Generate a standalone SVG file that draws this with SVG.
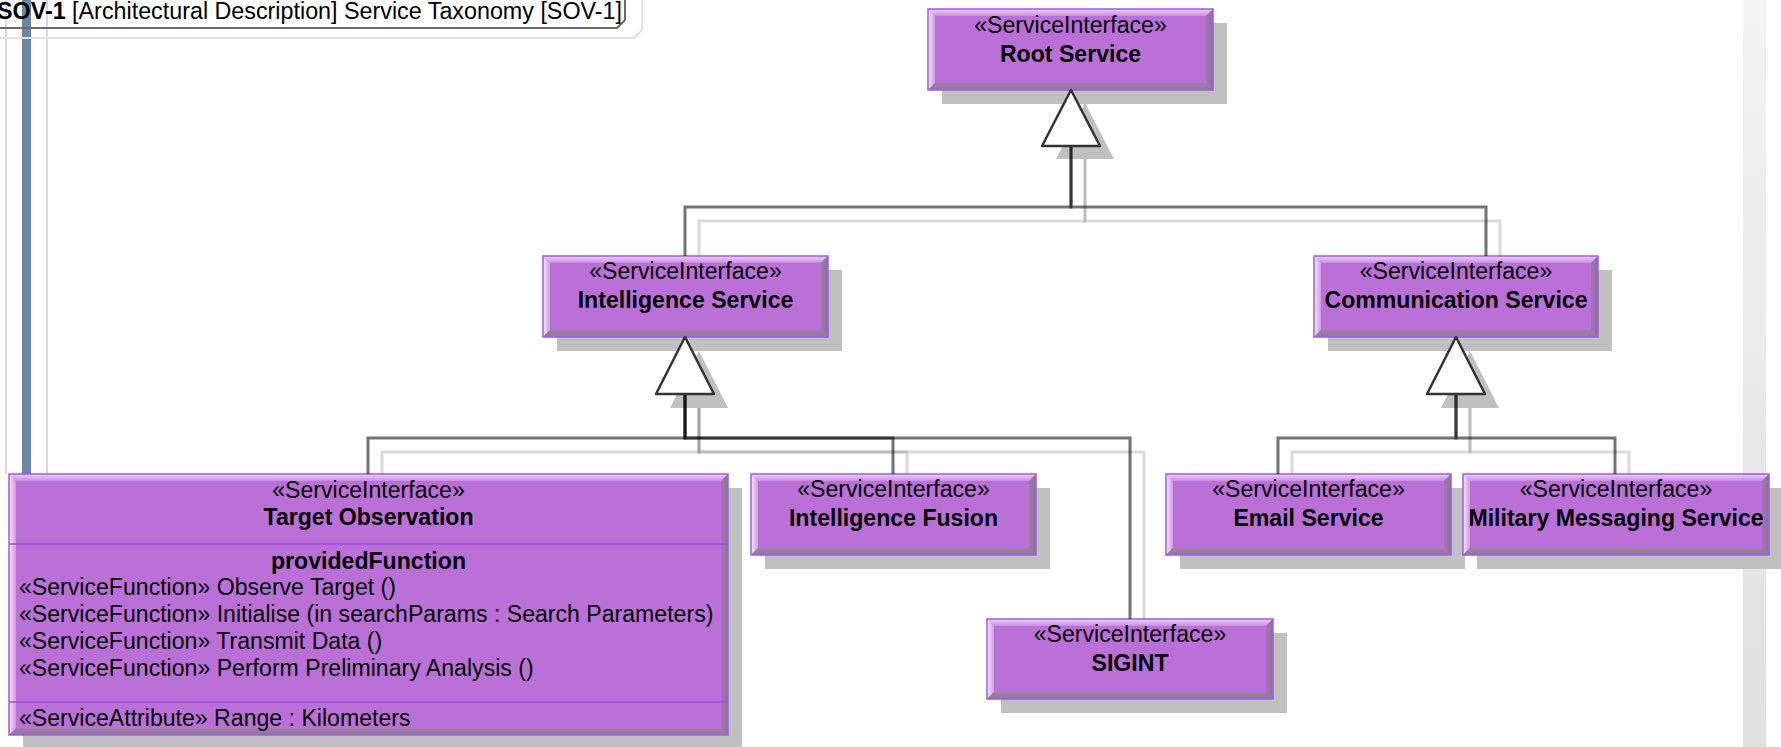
<svg xmlns="http://www.w3.org/2000/svg" width="1781" height="747" viewBox="0 0 1781 747">
<style>
.t{font-family:"Liberation Sans",Arial,sans-serif;font-size:23.1px;fill:#000}
.c{text-anchor:middle}
.b{font-weight:bold}
.body{fill:#bb70d8}
.bd{fill:none;stroke:#a456ee;stroke-width:1.5}
.sh{fill:#c0c0c0}
.bt{fill:url(#gTop)}
.bl{fill:url(#gLeft)}
.br{fill:url(#gRight)}
.bb{fill:url(#gBot)}
.ln{fill:none;stroke:#000;stroke-opacity:.55;stroke-width:3}
.lns{fill:none;stroke:#000;stroke-opacity:.14;stroke-width:3}
.tri{fill:#fff;stroke:#333;stroke-width:2.5;stroke-linejoin:round}
.trs{fill:#c0c0c0}
.cmp{stroke:#9c4ce8;stroke-width:1.5}
</style>
<defs>
<linearGradient id="gTop" x1="0" y1="0" x2="0" y2="1"><stop offset="0" stop-color="#ecd2f5"/><stop offset="1" stop-color="#c98ee3"/></linearGradient>
<linearGradient id="gLeft" x1="0" y1="0" x2="1" y2="0"><stop offset="0" stop-color="#f6e8fb"/><stop offset="1" stop-color="#cf98e6"/></linearGradient>
<linearGradient id="gRight" x1="0" y1="0" x2="1" y2="0"><stop offset="0" stop-color="#a276b4"/><stop offset="1" stop-color="#857590"/></linearGradient>
<linearGradient id="gBot" x1="0" y1="0" x2="0" y2="1"><stop offset="0" stop-color="#a47ab4"/><stop offset="1" stop-color="#8a7c92"/></linearGradient>
<linearGradient id="gBand" x1="0" y1="0" x2="0" y2="1"><stop offset="0" stop-color="#f3f3f3"/><stop offset="1" stop-color="#e0e0e0"/></linearGradient>
</defs>
<rect width="1781" height="747" fill="#fff"/>
<rect x="1743" y="0" width="23" height="747" fill="url(#gBand)"/>

<g id="frame">
<rect x="22" y="0" width="9" height="474" fill="#6886a6"/>
<line x1="6" y1="0" x2="6" y2="474" stroke="#d4d4ff" stroke-width="2"/>
<line x1="47" y1="0" x2="47" y2="474" stroke="#d4d4ff" stroke-width="2"/>
<path d="M-10,38 H634 L642,30 V-10" fill="none" stroke="#e2e2e2" stroke-width="2"/>
<path d="M-10,28 H617 L625,20 V-10" fill="none" stroke="#6a6a6a" stroke-width="2"/>
<text class="t" x="-3" y="19" style="font-size:23.3px"><tspan class="b">SOV-1</tspan> [Architectural Description] Service Taxonomy [SOV-1]</text>
</g>

<g id="root-service" transform="translate(928,9)">
<rect class="sh" x="14" y="14" width="285" height="81"/>
<rect class="body" width="285" height="81"/>
<polygon class="bt" points="0,0 285,0 278,7 7,7"/>
<polygon class="bl" points="0,0 7,7 7,74 0,81"/>
<polygon class="br" points="285,0 285,81 278,74 278,7"/>
<polygon class="bb" points="0,81 7,74 278,74 285,81"/>
<rect class="bd" width="285" height="81"/>
<text class="t c" x="142.5" y="24">«ServiceInterface»</text>
<text class="t c b" x="142.5" y="53">Root Service</text>
</g>

<g id="intelligence-service" transform="translate(543,256)">
<rect class="sh" x="14" y="14" width="285" height="81"/>
<rect class="body" width="285" height="81"/>
<polygon class="bt" points="0,0 285,0 278,7 7,7"/>
<polygon class="bl" points="0,0 7,7 7,74 0,81"/>
<polygon class="br" points="285,0 285,81 278,74 278,7"/>
<polygon class="bb" points="0,81 7,74 278,74 285,81"/>
<rect class="bd" width="285" height="81"/>
<text class="t c" x="142.5" y="23">«ServiceInterface»</text>
<text class="t c b" x="142.5" y="52">Intelligence Service</text>
</g>

<g id="communication-service" transform="translate(1314,256)">
<rect class="sh" x="14" y="14" width="284" height="81"/>
<rect class="body" width="284" height="81"/>
<polygon class="bt" points="0,0 284,0 277,7 7,7"/>
<polygon class="bl" points="0,0 7,7 7,74 0,81"/>
<polygon class="br" points="284,0 284,81 277,74 277,7"/>
<polygon class="bb" points="0,81 7,74 277,74 284,81"/>
<rect class="bd" width="284" height="81"/>
<text class="t c" x="142" y="23">«ServiceInterface»</text>
<text class="t c b" x="142" y="52">Communication Service</text>
</g>

<g id="target-observation" transform="translate(9,474)">
<rect class="sh" x="14" y="14" width="719" height="261"/>
<rect class="body" width="719" height="261"/>
<polygon class="bt" points="0,0 719,0 712,7 7,7"/>
<polygon class="bl" points="0,0 7,7 7,254 0,261"/>
<polygon class="br" points="719,0 719,261 712,254 712,7"/>
<polygon class="bb" points="0,261 7,254 712,254 719,261"/>
<rect class="bd" width="719" height="261"/>
<line class="cmp" x1="0" y1="70" x2="719" y2="70"/>
<line class="cmp" x1="0" y1="228" x2="719" y2="228"/>
<text class="t c" x="359.5" y="24">«ServiceInterface»</text>
<text class="t c b" x="359.5" y="51">Target Observation</text>
<text class="t c b" x="359.5" y="95">providedFunction</text>
<text class="t" x="10" y="121">«ServiceFunction» Observe Target ()</text>
<text class="t" x="10" y="148">«ServiceFunction» Initialise (in searchParams : Search Parameters)</text>
<text class="t" x="10" y="175">«ServiceFunction» Transmit Data ()</text>
<text class="t" x="10" y="202">«ServiceFunction» Perform Preliminary Analysis ()</text>
<text class="t" x="10" y="252">«ServiceAttribute» Range : Kilometers</text>
</g>

<g id="intelligence-fusion" transform="translate(751,474)">
<rect class="sh" x="14" y="14" width="285" height="81"/>
<rect class="body" width="285" height="81"/>
<polygon class="bt" points="0,0 285,0 278,7 7,7"/>
<polygon class="bl" points="0,0 7,7 7,74 0,81"/>
<polygon class="br" points="285,0 285,81 278,74 278,7"/>
<polygon class="bb" points="0,81 7,74 278,74 285,81"/>
<rect class="bd" width="285" height="81"/>
<text class="t c" x="142.5" y="23">«ServiceInterface»</text>
<text class="t c b" x="142.5" y="52">Intelligence Fusion</text>
</g>

<g id="sigint" transform="translate(987,619)">
<rect class="sh" x="14" y="14" width="286" height="80"/>
<rect class="body" width="286" height="80"/>
<polygon class="bt" points="0,0 286,0 279,7 7,7"/>
<polygon class="bl" points="0,0 7,7 7,73 0,80"/>
<polygon class="br" points="286,0 286,80 279,73 279,7"/>
<polygon class="bb" points="0,80 7,73 279,73 286,80"/>
<rect class="bd" width="286" height="80"/>
<text class="t c" x="143" y="23">«ServiceInterface»</text>
<text class="t c b" x="143" y="52">SIGINT</text>
</g>

<g id="email-service" transform="translate(1166,474)">
<rect class="sh" x="14" y="14" width="285" height="81"/>
<rect class="body" width="285" height="81"/>
<polygon class="bt" points="0,0 285,0 278,7 7,7"/>
<polygon class="bl" points="0,0 7,7 7,74 0,81"/>
<polygon class="br" points="285,0 285,81 278,74 278,7"/>
<polygon class="bb" points="0,81 7,74 278,74 285,81"/>
<rect class="bd" width="285" height="81"/>
<text class="t c" x="142.5" y="23">«ServiceInterface»</text>
<text class="t c b" x="142.5" y="52">Email Service</text>
</g>

<g id="military-messaging-service" transform="translate(1463,474)">
<rect class="sh" x="14" y="14" width="306" height="81"/>
<rect class="body" width="306" height="81"/>
<polygon class="bt" points="0,0 306,0 299,7 7,7"/>
<polygon class="bl" points="0,0 7,7 7,74 0,81"/>
<polygon class="br" points="306,0 306,81 299,74 299,7"/>
<polygon class="bb" points="0,81 7,74 299,74 306,81"/>
<rect class="bd" width="306" height="81"/>
<text class="t c" x="153" y="23">«ServiceInterface»</text>
<text class="t c b" x="153" y="52">Military Messaging Service</text>
</g>

<g id="connectors">
<polygon class="trs" points="1085,103 1056,159 1114,159"/>
<polygon class="trs" points="699,351 670,408 728,408"/>
<polygon class="trs" points="1470,351 1441,408 1499,408"/>
<path class="lns" d="M699,256 V221 H1085 V159"/>
<path class="lns" d="M1500,256 V221 H1085 V159"/>
<path class="lns" d="M382,474 V452 H699 V408"/>
<path class="lns" d="M907,474 V452 H699 V408"/>
<path class="lns" d="M1144,619 V452 H699 V408"/>
<path class="lns" d="M1292,474 V452 H1470 V408"/>
<path class="lns" d="M1629,474 V452 H1470 V408"/>
<path class="ln" d="M685,256 V207 H1071 V146"/>
<path class="ln" d="M1486,256 V207 H1071 V146"/>
<path class="ln" d="M368,474 V438 H685 V394"/>
<path class="ln" d="M893,474 V438 H685 V394"/>
<path class="ln" d="M1130,619 V438 H685 V394"/>
<path class="ln" d="M1278,474 V438 H1456 V394"/>
<path class="ln" d="M1615,474 V438 H1456 V394"/>
<polygon class="tri" points="1071,90 1042,146 1100,146"/>
<polygon class="tri" points="685,337 656,394 714,394"/>
<polygon class="tri" points="1456,337 1427,394 1485,394"/>
</g>
</svg>
